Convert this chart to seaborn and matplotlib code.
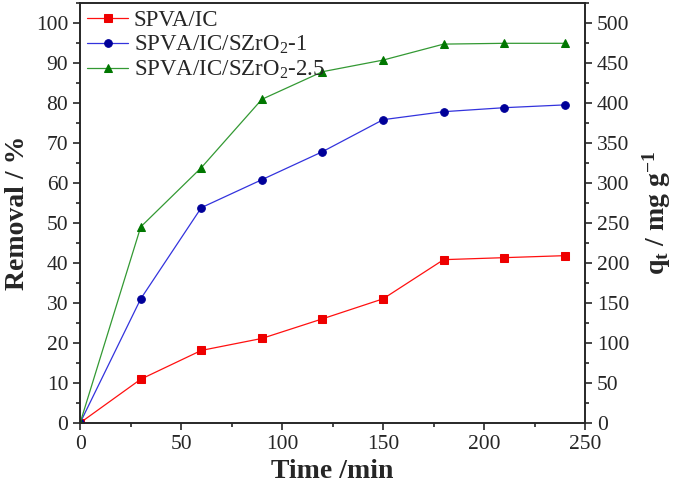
import pandas as pd
import matplotlib
matplotlib.use("Agg")
import matplotlib.pyplot as plt
import seaborn as sns
from matplotlib.ticker import MultipleLocator

# data
time_min = [0, 30, 60, 90, 120, 150, 180, 210, 240]
spva_ic = [0, 10.9, 18.1, 21.1, 26.0, 31.0, 40.8, 41.3, 41.8]
spva_szr1 = [0, 31.0, 53.8, 60.8, 67.8, 75.8, 77.8, 78.8, 79.5]
spva_szr25 = [0, 49.0, 63.8, 80.9, 87.8, 90.7, 94.7, 94.9, 94.9]
labels = ["SPVA/IC", "SPVA/IC/SZrO$_2$-1", "SPVA/IC/SZrO$_2$-2.5"]

sns.set_style("ticks")
plt.rcParams['font.family'] = ['Liberation Serif', 'DejaVu Serif']
plt.rcParams['mathtext.fontset'] = 'custom'
plt.rcParams['mathtext.rm'] = 'Liberation Serif'
plt.rcParams['mathtext.it'] = 'Liberation Serif:italic'
plt.rcParams['mathtext.bf'] = 'Liberation Serif:bold'

fig = plt.figure(figsize=(6.85, 4.86), dpi=100)
ax = fig.add_axes([0.117, 0.13, 0.737, 0.864])

series = [
    (spva_ic, 's', '#ff1010', '#ee0000'),
    (spva_szr1, 'o', '#3333dd', '#000099'),
    (spva_szr25, '^', '#339933', '#007700'),
]
for (vals, mk, lc, mc), lab in zip(series, labels):
    sns.lineplot(x=time_min, y=vals, ax=ax, color=lc, lw=0.9, marker=mk,
                 markersize=5.5, markerfacecolor=mc, markeredgecolor=mc,
                 label=lab)

ax.set_xlim(0, 250)
ax.set_ylim(0, 105)
ax.xaxis.set_major_locator(MultipleLocator(50))
ax.xaxis.set_minor_locator(MultipleLocator(25))
ax.yaxis.set_major_locator(MultipleLocator(10))
ax.yaxis.set_minor_locator(MultipleLocator(5))
ax.tick_params(which='major', direction='out', length=5, width=1.2, labelsize=15.5)
ax.tick_params(which='minor', direction='out', length=3, width=1.2)
for s in ax.spines.values():
    s.set_linewidth(1.2)
ax.set_xlabel("Time /min", fontsize=20, fontweight='bold')
ax.set_ylabel("Removal / %", fontsize=20, fontweight='bold')

ax2 = ax.twinx()
ax2.set_ylim(0, 525)
ax2.yaxis.set_major_locator(MultipleLocator(50))
ax2.yaxis.set_minor_locator(MultipleLocator(25))
ax2.tick_params(which='major', direction='out', length=5, width=1.2, labelsize=15.5)
ax2.tick_params(which='minor', direction='out', length=3, width=1.2)
ax2.set_ylabel(r"$\mathbf{q_t}$ / mg g$^{\mathbf{-1}}$", fontsize=20,
               fontweight='bold', labelpad=8)
for s in ax2.spines.values():
    s.set_linewidth(1.2)

ax.legend(loc='upper left', frameon=False, fontsize=16.5, handlelength=1.8,
          handletextpad=0.25, labelspacing=0.12, borderaxespad=0.0,
          borderpad=0.3)

fig.savefig("out.png", dpi=100)
